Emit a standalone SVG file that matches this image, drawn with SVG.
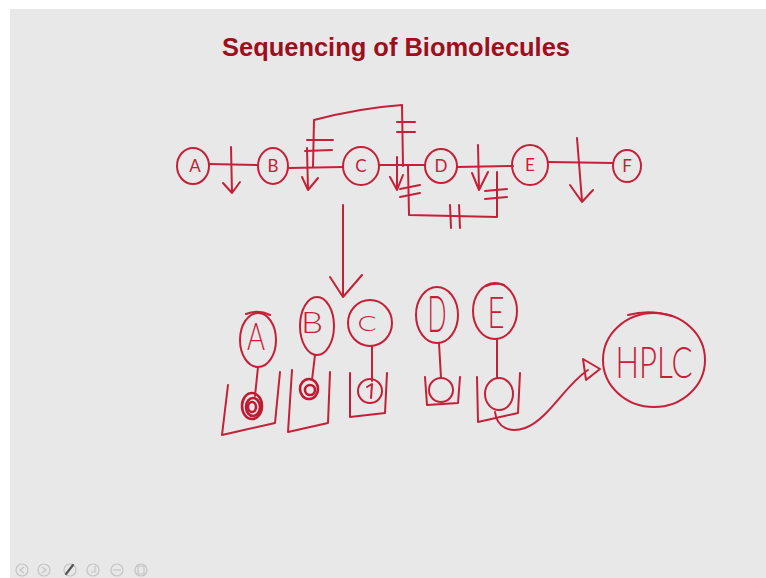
<svg xmlns="http://www.w3.org/2000/svg" width="766" height="578" viewBox="0 0 766 578">
  <style>
    .ink { fill: none; stroke: #c52038; stroke-width: 2; stroke-linecap: round; stroke-linejoin: round; }
    .ink-thick { fill: none; stroke: #c01a33; stroke-width: 2.6; stroke-linecap: round; }
    .lbl { fill: #c52038; font-family: Lato, "Liberation Sans", Arial, sans-serif; font-weight: 300; text-anchor: middle; }
    .lbl-sm { fill: #c52038; font-family: Lato, "Liberation Sans", Arial, sans-serif; font-weight: 400; font-size: 17px; text-anchor: middle; }
    .title { fill: #9e0f1e; font-family: "Liberation Sans", Arial, sans-serif; font-weight: bold; font-size: 25.5px; text-anchor: middle; }
    .tool { fill: none; stroke: #c4c4c4; stroke-width: 1.2; }
  </style>

  <!-- slide page -->
  <rect x="0" y="0" width="766" height="578" fill="#ffffff"/>
  <rect x="10" y="9" width="756" height="569" fill="#e8e8e8"/>

  <text class="title" x="396" y="56" textLength="348" lengthAdjust="spacingAndGlyphs">Sequencing of Biomolecules</text>

  <!-- top chain of residues -->
  <g id="top-A"><ellipse class="ink" cx="193" cy="166" rx="16" ry="18"/><text class="lbl-sm" x="195" y="172">A</text></g>
  <g id="top-B"><ellipse class="ink" cx="273" cy="166" rx="15" ry="18"/><text class="lbl-sm" x="273" y="172">B</text></g>
  <g id="top-C"><ellipse class="ink" cx="361" cy="166" rx="18" ry="19"/><text class="lbl-sm" x="361" y="172">C</text></g>
  <g id="top-D"><ellipse class="ink" cx="441" cy="166" rx="16" ry="17"/><text class="lbl-sm" x="441" y="172">D</text></g>
  <g id="top-E"><ellipse class="ink" cx="530" cy="165" rx="18" ry="20"/><text class="lbl-sm" x="530" y="171">E</text></g>
  <g id="top-F"><ellipse class="ink" cx="627" cy="166" rx="14" ry="16"/><text class="lbl-sm" x="627" y="172">F</text></g>

  <!-- separated residues -->
  <g id="res-A">
    <ellipse class="ink" cx="258" cy="340" rx="18" ry="27"/>
    <path class="ink" d="M246,314 Q258,309 270,315"/>
    <text class="lbl" x="256" y="350" font-size="37" textLength="18" lengthAdjust="spacingAndGlyphs">A</text>
  </g>
  <g id="res-B">
    <ellipse class="ink" cx="317" cy="326" rx="17" ry="29"/>
    <text class="lbl" x="312" y="333" font-size="29" textLength="22" lengthAdjust="spacingAndGlyphs">B</text>
  </g>
  <g id="res-C">
    <ellipse class="ink" cx="370" cy="323" rx="22" ry="23"/>
    <text class="lbl" x="367" y="331" font-size="22" textLength="19" lengthAdjust="spacingAndGlyphs">C</text>
  </g>
  <g id="res-D">
    <ellipse class="ink" cx="437" cy="315" rx="21" ry="28"/>
    <text class="lbl" x="437" y="332" font-size="52" textLength="19" lengthAdjust="spacingAndGlyphs">D</text>
  </g>
  <g id="res-E">
    <ellipse class="ink" cx="495" cy="311" rx="22" ry="28"/>
    <path class="ink" d="M486,286 Q495,282 504,285"/>
    <text class="lbl" x="496" y="328" font-size="43" textLength="17" lengthAdjust="spacingAndGlyphs">E</text>
  </g>

  <!-- sample wells with spots -->
  <g id="well-A">
    <path class="ink" d="M228,385 L222,435 L275,423 L280,372"/>
    <ellipse class="ink-thick" cx="252" cy="406" rx="10" ry="13"/>
    <ellipse class="ink-thick" cx="253" cy="407" rx="7" ry="9"/>
    <ellipse class="ink-thick" cx="252" cy="407" rx="4" ry="5"/>
  </g>
  <g id="well-B">
    <path class="ink" d="M292,370 L288,432 L328,423 L330,372"/>
    <ellipse class="ink-thick" cx="309" cy="389" rx="9" ry="10"/>
    <ellipse class="ink-thick" cx="310" cy="390" rx="5" ry="5"/>
  </g>
  <g id="well-C">
    <path class="ink" d="M350,373 L350,417 L385,413 L387,373"/>
    <ellipse class="ink" cx="370" cy="391" rx="12" ry="12"/>
    <path class="ink" d="M367,387 L372,384 L371,398"/>
  </g>
  <g id="well-D">
    <path class="ink" d="M425,377 L427,405 L458,403 L460,377"/>
    <ellipse class="ink" cx="441" cy="390" rx="12" ry="12"/>
  </g>
  <g id="well-E">
    <path class="ink" d="M477,377 L478,422 L518,413 L520,373"/>
    <ellipse class="ink" cx="499" cy="394" rx="14" ry="16"/>
  </g>

  <g id="hplc">
    <ellipse class="ink" cx="654" cy="360" rx="51" ry="47"/>
    <path class="ink" d="M628,315 Q650,309 672,316"/>
    <text class="lbl" x="654" y="378" font-size="44" textLength="77" lengthAdjust="spacingAndGlyphs">HPLC</text>
  </g>

  <!-- connectors -->
  <g id="connectors">
    <!-- backbone bonds -->
    <path class="ink" d="M209,164 L257,165"/>
    <path class="ink" d="M289,168 L343,167"/>
    <path class="ink" d="M379,165 L425,165"/>
    <path class="ink" d="M457,167 L513,166"/>
    <path class="ink" d="M548,162 L613,163"/>

    <!-- cleavage arrows -->
    <path class="ink" d="M231,147 L232,193 M223,183 L232,193 L240,182"/>
    <path class="ink" d="M307,148 L308,190 M302,177 L308,190 L318,178"/>
    <path class="ink" d="M397,157 L397,190 M390,177 L397,190 L403,175"/>
    <path class="ink" d="M478,145 L479,190 M472,173 L479,190 L488,172"/>
    <path class="ink" d="M577,138 L582,201 M570,185 L582,202 L593,190"/>

    <!-- bridge over C -->
    <path class="ink" d="M313,167 L314,120 Q360,108 402,105 L403,166"/>
    <path class="ink" d="M307,140 L333,140 M305,151 L332,150"/>
    <path class="ink" d="M397,122 L415,122 M397,132 L415,132"/>

    <!-- bridge under D -->
    <path class="ink" d="M408,166 L409,215 L497,217 L497,172"/>
    <path class="ink" d="M400,189 L420,185 M400,197 L420,193"/>
    <path class="ink" d="M450,205 L451,228 M459,205 L460,228"/>
    <path class="ink" d="M485,191 L507,189 M485,199 L507,197"/>

    <!-- C to separated residues -->
    <path class="ink" d="M343,205 L343,297 M330,277 L343,297 L362,275"/>

    <!-- residue to spot -->
    <path class="ink" d="M258,367 L255,396"/>
    <path class="ink" d="M315,355 L312,380"/>
    <path class="ink" d="M372,346 L372,381"/>
    <path class="ink" d="M439,343 L441,378"/>
    <path class="ink" d="M497,339 L497,378"/>

    <!-- E well to HPLC -->
    <path class="ink" d="M495,412 C497,428 510,433 525,428 C548,420 565,385 588,370"/>
    <path class="ink" d="M583,359 L600,369 L586,380 Z"/>
  </g>

  <!-- viewer toolbar -->
  <g id="toolbar">
    <circle class="tool" cx="22" cy="570" r="6"/>
    <path class="tool" d="M24,567 L20,570 L24,573"/>
    <circle class="tool" cx="44" cy="570" r="6"/>
    <path class="tool" d="M42,567 L46,570 L42,573"/>
    <circle class="tool" cx="70" cy="570" r="6"/>
    <path d="M66,574 L73,565" stroke="#555" stroke-width="2.2" stroke-linecap="round"/>
    <circle class="tool" cx="93" cy="570" r="6"/>
    <path class="tool" d="M95,566 L95,572 L91,572"/>
    <circle class="tool" cx="117" cy="570" r="6"/>
    <path class="tool" d="M113,570 L121,570"/>
    <circle class="tool" cx="141" cy="570" r="6"/>
    <path class="tool" d="M138,566 L144,566 L144,574 L138,574 Z"/>
  </g>
</svg>
